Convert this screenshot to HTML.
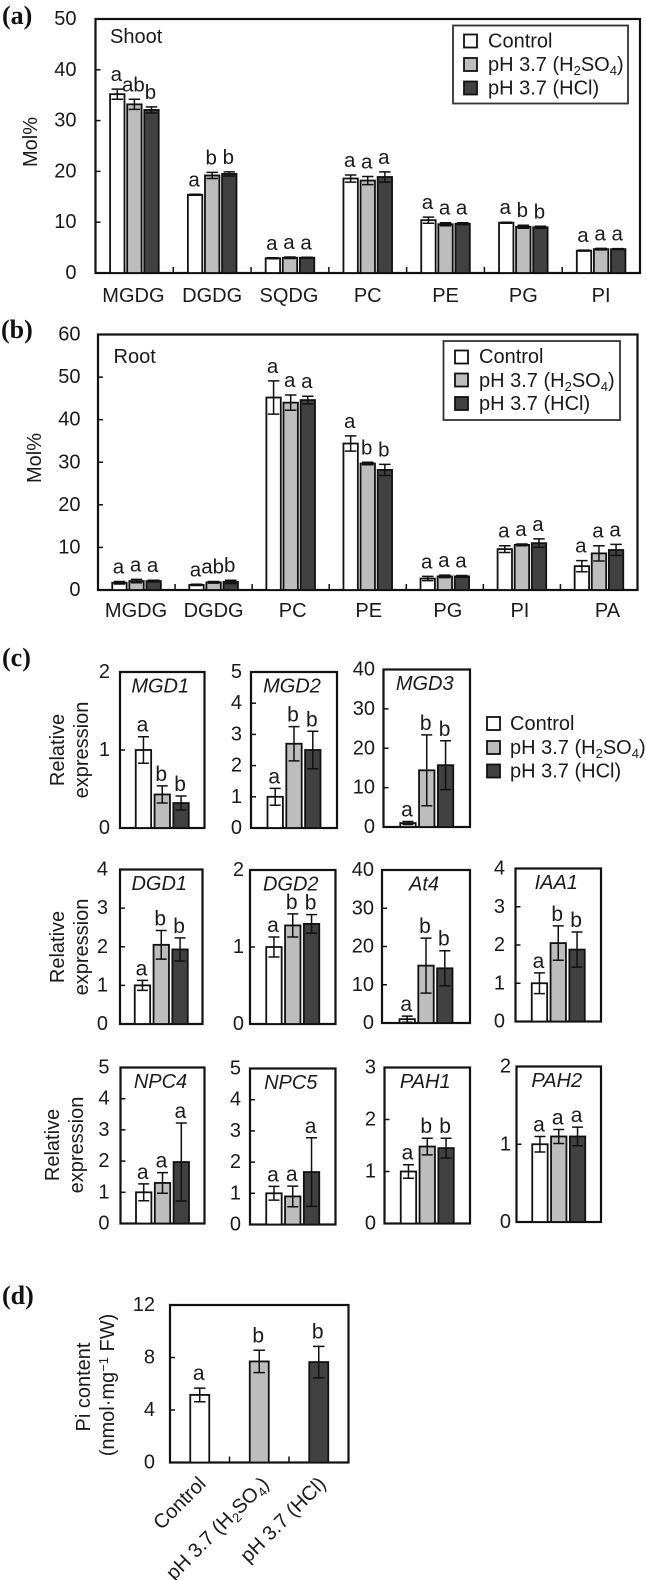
<!DOCTYPE html>
<html lang="en">
<head>
<meta charset="utf-8">
<title>Lipid composition, gene expression and Pi content</title>
<style>
html,body{margin:0;padding:0;background:#fff;}
svg{display:block;font-family:"Liberation Sans",Arial,sans-serif;fill:#1a1a1a;}
.panel-tag{font-family:"Liberation Serif","Times New Roman",serif;font-weight:bold;font-size:26px;fill:#111;}
.t20{font-size:20px;}
</style>
</head>
<body>
<svg id="figure" xmlns="http://www.w3.org/2000/svg" width="646" height="1580" viewBox="0 0 646 1580">
  <rect width="646" height="1580" fill="#fff"/>
  <text class="panel-tag" x="2" y="24">(a)</text>
  <text class="panel-tag" x="1" y="338">(b)</text>
  <text class="panel-tag" x="2" y="666">(c)</text>
  <text class="panel-tag" x="2" y="1304">(d)</text>

  <text class="t20" x="110" y="43">Shoot</text>
  <text class="t20" x="113.5" y="363">Root</text>
  <text class="t20" text-anchor="middle" transform="translate(37,142) rotate(-90)">Mol%</text>
  <text class="t20" text-anchor="middle" transform="translate(41,458) rotate(-90)">Mol%</text>

  <text class="t20" text-anchor="middle" transform="translate(64,750) rotate(-90)">Relative</text>
  <text class="t20" text-anchor="middle" transform="translate(88,750) rotate(-90)">expression</text>
  <text class="t20" text-anchor="middle" transform="translate(64,947) rotate(-90)">Relative</text>
  <text class="t20" text-anchor="middle" transform="translate(88,947) rotate(-90)">expression</text>
  <text class="t20" text-anchor="middle" transform="translate(59,1145) rotate(-90)">Relative</text>
  <text class="t20" text-anchor="middle" transform="translate(83,1145) rotate(-90)">expression</text>

  <text class="t20" text-anchor="middle" transform="translate(90,1387) rotate(-90)">Pi content</text>
  <text class="t20" text-anchor="middle" transform="translate(114,1385) rotate(-90)">(nmol·mg<tspan font-size="13" dy="-6">−1</tspan><tspan dy="6"> FW)</tspan></text>

  <g id="charts"></g>

  <g>
    <rect x="453" y="25.5" width="175" height="78" fill="#fff" stroke="#333" stroke-width="1.8"/>
    <rect x="464" y="34.5" width="13" height="13" fill="#fff" stroke="#111" stroke-width="1.8"/>
    <text class="t20" x="488" y="47.5">Control</text>
    <rect x="464" y="58" width="13" height="13" fill="#bdbdbd" stroke="#111" stroke-width="1.8"/>
    <text class="t20" x="488" y="71">pH 3.7 (H<tspan font-size="13" dy="4">2</tspan><tspan dy="-4">SO</tspan><tspan font-size="13" dy="4">4</tspan><tspan dy="-4">)</tspan></text>
    <rect x="464" y="81.5" width="13" height="13" fill="#414141" stroke="#111" stroke-width="1.8"/>
    <text class="t20" x="488" y="94.5">pH 3.7 (HCl)</text>
  </g>
  <g>
    <rect x="443.5" y="341" width="176.5" height="79" fill="#fff" stroke="#333" stroke-width="1.8"/>
    <rect x="455" y="350.5" width="13" height="13" fill="#fff" stroke="#111" stroke-width="1.8"/>
    <text class="t20" x="479" y="363">Control</text>
    <rect x="455" y="373.5" width="13" height="13" fill="#bdbdbd" stroke="#111" stroke-width="1.8"/>
    <text class="t20" x="479" y="387">pH 3.7 (H<tspan font-size="13" dy="4">2</tspan><tspan dy="-4">SO</tspan><tspan font-size="13" dy="4">4</tspan><tspan dy="-4">)</tspan></text>
    <rect x="455" y="397" width="13" height="13" fill="#414141" stroke="#111" stroke-width="1.8"/>
    <text class="t20" x="479" y="410">pH 3.7 (HCl)</text>
  </g>
  <g>
    <rect x="487" y="717" width="13" height="13" fill="#fff" stroke="#111" stroke-width="1.8"/>
    <text class="t20" x="510" y="730">Control</text>
    <rect x="487" y="741" width="13" height="13" fill="#bdbdbd" stroke="#111" stroke-width="1.8"/>
    <text class="t20" x="510" y="754">pH 3.7 (H<tspan font-size="13" dy="4">2</tspan><tspan dy="-4">SO</tspan><tspan font-size="13" dy="4">4</tspan><tspan dy="-4">)</tspan></text>
    <rect x="487" y="764.5" width="13" height="13" fill="#414141" stroke="#111" stroke-width="1.8"/>
    <text class="t20" x="510" y="777.5">pH 3.7 (HCl)</text>
  </g>

  <text class="t20" text-anchor="end" transform="translate(207,1485) rotate(-45)">Control</text>
  <text class="t20" text-anchor="end" transform="translate(270,1485) rotate(-45)">pH 3.7 (H<tspan font-size="13" dy="4">2</tspan><tspan dy="-4">SO</tspan><tspan font-size="13" dy="4">4</tspan><tspan dy="-4">)</tspan></text>
  <text class="t20" text-anchor="end" transform="translate(327,1485) rotate(-45)">pH 3.7 (HCl)</text>
</svg>

<script>
/* ---------- panel (a) shoot ---------- */
const shootCategories = ['MGDG','DGDG','SQDG','PC','PE','PG','PI'];
const shootTicks = [0,10,20,30,40,50];
const shootControl = [35.2,15.4,2.9,18.6,10.4,9.9,4.4];
const shootAcid    = [33.2,19.2,3.0,18.2,9.6,9.1,4.7];
const shootHcl     = [32.1,19.5,3.0,18.9,9.7,9.0,4.7];
const shootControlErr = [1.0,0.1,0.1,0.7,0.6,0.1,0.1];
const shootAcidErr    = [1.0,0.6,0.15,0.8,0.3,0.3,0.15];
const shootHclErr     = [0.6,0.4,0.1,1.0,0.2,0.2,0.1];
const shootControlSig = ['a','a','a','a','a','a','a'];
const shootAcidSig    = ['ab','b','a','a','a','b','a'];
const shootHclSig     = ['b','b','a','a','a','b','a'];

/* ---------- panel (b) root ---------- */
const rootCategories = ['MGDG','DGDG','PC','PE','PG','PI','PA'];
const rootTicks = [0,10,20,30,40,50,60];
const rootControl = [1.7,1.2,45.2,34.4,2.7,9.6,5.6];
const rootAcid    = [2.1,1.8,44.0,29.7,3.2,10.6,8.6];
const rootHcl     = [2.1,1.9,44.6,28.2,3.2,11.0,9.4];
const rootControlErr = [0.3,0.15,3.9,1.8,0.5,0.8,1.3];
const rootAcidErr    = [0.4,0.2,1.8,0.3,0.3,0.2,1.8];
const rootHclErr     = [0.2,0.4,0.9,1.3,0.2,1.0,1.3];
const rootControlSig = ['a','a','a','a','a','a','a'];
const rootAcidSig    = ['a','ab','a','b','a','a','a'];
const rootHclSig     = ['a','b','a','b','a','a','a'];

/* ---------- panel (c) relative expression: [control, H2SO4, HCl] ---------- */
const mgd1Ticks = [0,1,2];     const mgd1Values = [1.0,0.43,0.32];  const mgd1Errors = [0.17,0.11,0.09];  const mgd1Sig = ['a','b','b'];
const mgd2Ticks = [0,1,2,3,4,5]; const mgd2Values = [1.0,2.7,2.5];  const mgd2Errors = [0.27,0.55,0.6];   const mgd2Sig = ['a','b','b'];
const mgd3Ticks = [0,10,20,30,40]; const mgd3Values = [1.0,14.4,15.7]; const mgd3Errors = [0.4,9.0,6.2]; const mgd3Sig = ['a','b','b'];
const dgd1Ticks = [0,1,2,3,4]; const dgd1Values = [1.0,2.05,1.93];  const dgd1Errors = [0.13,0.37,0.3];   const dgd1Sig = ['a','b','b'];
const dgd2Ticks = [0,1,2];     const dgd2Values = [1.0,1.28,1.3];   const dgd2Errors = [0.13,0.15,0.12];  const dgd2Sig = ['a','b','b'];
const at4Ticks = [0,10,20,30,40]; const at4Values = [1.0,15.0,14.3]; const at4Errors = [0.8,7.2,4.6];     const at4Sig = ['a','b','b'];
const iaa1Ticks = [0,1,2,3,4]; const iaa1Values = [1.0,2.05,1.88];  const iaa1Errors = [0.27,0.45,0.46];  const iaa1Sig = ['a','b','b'];
const npc4Ticks = [0,1,2,3,4,5]; const npc4Values = [1.0,1.3,1.97]; const npc4Errors = [0.27,0.33,1.25];  const npc4Sig = ['a','a','a'];
const npc5Ticks = [0,1,2,3,4,5]; const npc5Values = [1.0,0.9,1.68]; const npc5Errors = [0.22,0.33,1.1];   const npc5Sig = ['a','a','a'];
const pah1Ticks = [0,1,2,3];   const pah1Values = [1.0,1.48,1.45];  const pah1Errors = [0.13,0.16,0.19];  const pah1Sig = ['a','b','b'];
const pah2Ticks = [0,1,2];     const pah2Values = [1.0,1.1,1.1];    const pah2Errors = [0.1,0.09,0.12];   const pah2Sig = ['a','a','a'];

/* ---------- panel (d) Pi content ---------- */
const piTicks = [0,4,8,12];
const piValues = [5.15,7.7,7.65];
const piErrors = [0.52,0.85,1.2];
const piSig = ['a','b','b'];

const seriesFills = ['#ffffff','#bdbdbd','#414141'];
const seriesKeys = ['control','h2so4','hcl'];
const NS = 'http://www.w3.org/2000/svg';
const root = document.getElementById('charts');

function make(parent, tag, attrs, text) {
  const n = document.createElementNS(NS, tag);
  for (const k in attrs) n.setAttribute(k, attrs[k]);
  if (text !== undefined) n.textContent = text;
  parent.appendChild(n);
  return n;
}

function drawFrame(g, name, box, ticks, tickLabelX) {
  const maxTick = ticks[ticks.length - 1];
  const y = v => box.bottom - (v / maxTick) * (box.bottom - box.top);
  const frame = make(g, 'rect', {x: box.left, y: box.top, width: box.right - box.left, height: box.bottom - box.top, fill: 'none', stroke: '#111', 'stroke-width': 2.2});
  
  
  ticks.forEach(t => {
    if (t !== 0 && t !== maxTick) {
      const tick = make(g, 'line', {x1: box.left, x2: box.left + 5, y1: y(t), y2: y(t), stroke: '#111', 'stroke-width': 1.5});
      
      
    }
    const label = make(g, 'text', {x: tickLabelX, y: y(t) + 6, 'text-anchor': 'end', 'font-size': 20}, String(t));
    
    
  });
  return y;
}

function drawBar(g, name, cx, width, capWidth, fill, value, err, sig, y, gap, fontSize) {
  const bar = make(g, 'rect', {x: cx - width / 2, y: y(value), width: width, height: y(0) - y(value), fill: fill, stroke: '#111', 'stroke-width': 1.8});
  
  
  const eb = make(g, 'path', {
    d: 'M' + cx + ' ' + y(value + err) + 'V' + y(Math.max(value - err, 0)) +
       'M' + (cx - capWidth / 2) + ' ' + y(value + err) + 'H' + (cx + capWidth / 2) +
       'M' + (cx - capWidth / 2) + ' ' + y(Math.max(value - err, 0)) + 'H' + (cx + capWidth / 2),
    fill: 'none', stroke: '#111', 'stroke-width': 1.5});
  
  
  const letter = make(g, 'text', {x: cx - 1, y: y(value + err) - gap, 'text-anchor': 'middle', 'font-size': fontSize}, sig);
  
  
}

function drawGrouped(name, box, ticks, tickLabelX, categories, series, errors, sigs, labelY, labelNudge) {
  const g = make(root, 'g', {});
  
  
  const y = drawFrame(g, name, box, ticks, tickLabelX);
  const step = (box.right - box.left) / categories.length;
  categories.forEach((cat, i) => {
    const center = box.left + step * (i + 0.5);
    series.forEach((vals, s) => {
      drawBar(g, name + '-' + cat.toLowerCase() + '-' + seriesKeys[s], center + (s - 1) * 17.1, 14.4, 11.5,
        seriesFills[s], vals[i], errors[s][i], sigs[s][i], y, 8, 20.5);
    });
    if (i > 0) {
      const tick = make(g, 'line', {x1: box.left + step * i, x2: box.left + step * i, y1: box.bottom, y2: box.bottom - 6, stroke: '#111', 'stroke-width': 1.5});
      
      
    }
    const label = make(g, 'text', {x: center + labelNudge[i], y: labelY, 'text-anchor': 'middle', 'font-size': 20}, cat);
    
    
  });
}

function drawGene(gene, box, ticks, tickLabelX, values, errors, sigs) {
  const name = gene.toLowerCase();
  const g = make(root, 'g', {});
  
  
  const y = drawFrame(g, name, box, ticks, tickLabelX);
  const center = (box.left + box.right) / 2;
  values.forEach((v, s) => {
    drawBar(g, name + '-' + seriesKeys[s], center + (s - 1) * 18.8, 15.4, 11, seriesFills[s], v, errors[s], sigs[s], y, 5, 21);
  });
  const title = make(g, 'text', {x: center - 2, y: box.top + 20.5, 'text-anchor': 'middle', 'font-size': 20, 'font-style': 'italic'}, gene);
  
  
}

function drawPi(box, ticks, tickLabelX, values, errors, sigs) {
  const g = make(root, 'g', {});
  
  
  const y = drawFrame(g, 'pi-content', box, ticks, tickLabelX);
  const step = (box.right - box.left) / values.length;
  values.forEach((v, s) => {
    drawBar(g, 'pi-content-' + seriesKeys[s], box.left + step * (s + 0.5), 19, 11.5, seriesFills[s], v, errors[s], sigs[s], y, 8, 21);
    if (s > 0) {
      const tick = make(g, 'line', {x1: box.left + step * s, x2: box.left + step * s, y1: box.bottom, y2: box.bottom - 6, stroke: '#111', 'stroke-width': 1.5});
      
      
    }
  });
}

drawGrouped('shoot', {left: 95.5, right: 640, top: 19, bottom: 273}, shootTicks, 76.5, shootCategories,
  [shootControl, shootAcid, shootHcl], [shootControlErr, shootAcidErr, shootHclErr],
  [shootControlSig, shootAcidSig, shootHclSig], 302, [-1,0,-1,0,0,0,0]);

drawGrouped('root', {left: 98, right: 637.5, top: 334.5, bottom: 590}, rootTicks, 80.5, rootCategories,
  [rootControl, rootAcid, rootHcl], [rootControlErr, rootAcidErr, rootHclErr],
  [rootControlSig, rootAcidSig, rootHclSig], 617, [-0.5,0,2,1,3,-2,8.5]);

drawGene('MGD1', {left: 120, right: 204.5, top: 672, bottom: 828}, mgd1Ticks, 110, mgd1Values, mgd1Errors, mgd1Sig);
drawGene('MGD2', {left: 251, right: 337, top: 672, bottom: 828}, mgd2Ticks, 242, mgd2Values, mgd2Errors, mgd2Sig);
drawGene('MGD3', {left: 383.5, right: 470, top: 669.5, bottom: 827}, mgd3Ticks, 375, mgd3Values, mgd3Errors, mgd3Sig);
drawGene('DGD1', {left: 120, right: 202.5, top: 869.5, bottom: 1024}, dgd1Ticks, 108, dgd1Values, dgd1Errors, dgd1Sig);
drawGene('DGD2', {left: 250, right: 335.5, top: 870, bottom: 1024}, dgd2Ticks, 244, dgd2Values, dgd2Errors, dgd2Sig);
drawGene('At4', {left: 382, right: 470, top: 870, bottom: 1023}, at4Ticks, 374, at4Values, at4Errors, at4Sig);
drawGene('IAA1', {left: 515.5, right: 601, top: 868.5, bottom: 1021.5}, iaa1Ticks, 505, iaa1Values, iaa1Errors, iaa1Sig);
drawGene('NPC4', {left: 120.5, right: 204.5, top: 1067.5, bottom: 1223.5}, npc4Ticks, 109.5, npc4Values, npc4Errors, npc4Sig);
drawGene('NPC5', {left: 250, right: 335.5, top: 1068.5, bottom: 1224.5}, npc5Ticks, 241, npc5Values, npc5Errors, npc5Sig);
drawGene('PAH1', {left: 384.5, right: 470, top: 1067.5, bottom: 1223.5}, pah1Ticks, 376, pah1Values, pah1Errors, pah1Sig);
drawGene('PAH2', {left: 516.5, right: 601, top: 1066.5, bottom: 1222}, pah2Ticks, 511, pah2Values, pah2Errors, pah2Sig);

drawPi({left: 170, right: 348.5, top: 1305, bottom: 1462.5}, piTicks, 155, piValues, piErrors, piSig);
</script>
</body>
</html>
